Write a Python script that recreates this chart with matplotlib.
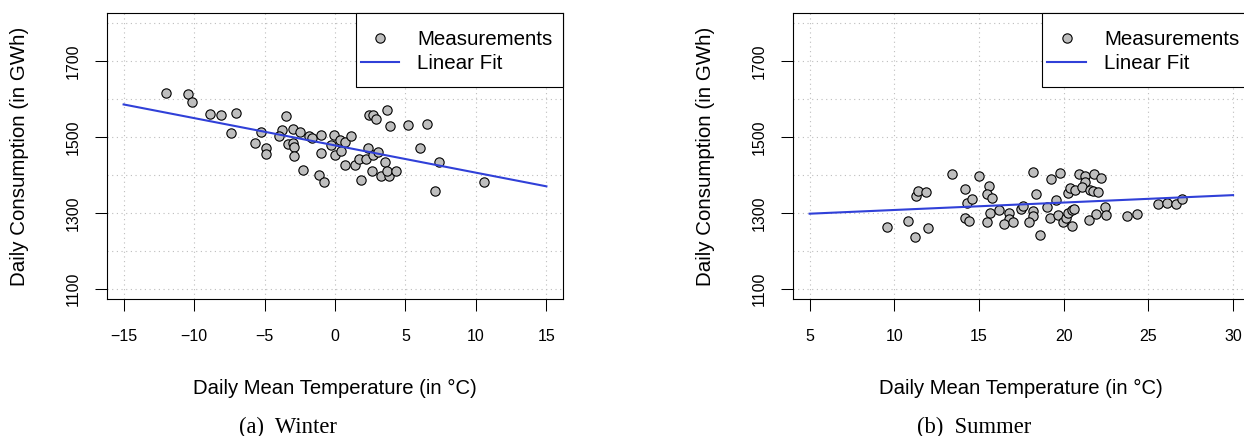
import numpy as np
import matplotlib
matplotlib.use("Agg")
import matplotlib.pyplot as plt
from matplotlib.lines import Line2D
from matplotlib.patches import Rectangle

# ---------------- data ----------------
winter_temp = [-11.97, -10.46, -10.18, -8.88, -8.10, -7.06, -7.39, -5.69, -5.27, -4.89,
               -4.89, -3.50, -3.75, -3.97, -2.97, -2.46, -3.31, -2.97, -2.92, -2.88,
               -2.27, -1.87, -1.63, -0.97, -0.97, -1.16, -0.81, -0.07, -0.28, 0.02,
               0.33, 0.42, 0.73, 1.13, 0.73, 1.44, 1.67, 1.81, 2.20, 2.31,
               2.38, 2.69, 2.92, 2.73, 3.04, 2.64, 3.54, 3.68, 3.92, 3.26,
               3.80, 3.68, 4.32, 5.21, 6.52, 6.04, 7.41, 7.10, 10.6]
winter_cons = [1616, 1614, 1593, 1561, 1557, 1564, 1511, 1484, 1512, 1472,
               1455, 1555, 1519, 1504, 1521, 1514, 1481, 1485, 1474, 1451,
               1414, 1503, 1498, 1505, 1458, 1401, 1382, 1505, 1478, 1452,
               1492, 1464, 1486, 1504, 1426, 1426, 1443, 1386, 1443, 1471,
               1559, 1559, 1547, 1452, 1461, 1411, 1433, 1571, 1529, 1398,
               1398, 1411, 1411, 1532, 1534, 1472, 1433, 1358, 1381]

summer_temp = [9.59, 10.79, 11.20, 11.99, 11.26, 11.40, 11.89, 13.39, 14.17, 14.29,
               14.59, 14.17, 14.39, 14.98, 15.59, 15.50, 15.79, 15.67, 15.47, 16.18,
               16.77, 16.76, 16.46, 16.99, 17.46, 17.58, 18.17, 18.39, 18.17, 18.19,
               17.96, 18.59, 19.02, 19.18, 19.27,
               19.77, 19.57, 20.26, 20.40, 20.69, 20.91, 21.24, 21.28, 21.11, 21.58,
               21.74, 22.03, 21.77, 22.19, 19.67, 19.93, 20.16, 20.26, 20.50, 20.61,
               20.50, 21.51, 21.89, 22.42, 22.48, 23.76, 24.30, 25.57, 26.10, 26.66,
               26.99]
summer_cons = [1262, 1279, 1236, 1259, 1345, 1358, 1354, 1403, 1362, 1327,
               1336, 1287, 1279, 1397, 1372, 1350, 1340, 1299, 1275, 1307,
               1300, 1283, 1271, 1276, 1310, 1318, 1409, 1350, 1305, 1292,
               1275, 1242, 1315, 1286, 1389,
               1406, 1334, 1352, 1365, 1359, 1402, 1396, 1381, 1368, 1360,
               1358, 1356, 1402, 1393, 1294, 1277, 1286, 1299, 1308, 1310,
               1265, 1281, 1297, 1316, 1294, 1293, 1297, 1323, 1327, 1323,
               1337]

# linear fits (intercept, slope) and the x-range they are drawn over
winter_fit = (1478.0, -7.2)
summer_fit = (1288.0, 1.96)
winter_fit_range = [-15, 15]
summer_fit_range = [5, 30]

winter_xticks = [-15, -10, -5, 0, 5, 10, 15]
summer_xticks = [5, 10, 15, 20, 25, 30]
y_ticks = [1100, 1300, 1500, 1700]
y_grid = [1100, 1200, 1300, 1400, 1500, 1600, 1700, 1800]

captions = ["(a)  Winter", "(b)  Summer"]
xlabel = "Daily Mean Temperature (in \u00b0C)"
ylabel = "Daily Consumption (in GWh)"
legend_labels = ["Measurements", "Linear Fit"]

# ---------------- style ----------------
SANS = ["Liberation Sans", "DejaVu Sans"]
SERIF = ["Liberation Serif", "DejaVu Serif"]
plt.rcParams["font.family"] = SANS
W, H = 1244, 436
DPI = 100
LINE_COLOR = "#3040d8"
PT_FACE = "#bebebe"
GRID_COLOR = "#bdbdbd"

fig = plt.figure(figsize=(W / DPI, H / DPI), dpi=DPI)

def px_axes(left, right, top, bottom):
    return [left / W, 1 - bottom / H, (right - left) / W, (bottom - top) / H]

panels = [
    dict(left=106.7, right=563.3, x=winter_temp, y=winter_cons,
         fit=winter_fit, fr=winter_fit_range, xt=winter_xticks, xlim=(-16.2, 16.2),
         cap=captions[0], capx=288),
    dict(left=792.7, right=1250.0, x=summer_temp, y=summer_cons,
         fit=summer_fit, fr=summer_fit_range, xt=summer_xticks, xlim=(4.0, 31.0),
         cap=captions[1], capx=974),
]
TOP, BOTTOM = 12.7, 299.3
LEG_W, LEG_H = 207.6, 74.0

for p in panels:
    rect = px_axes(p["left"], p["right"], TOP, BOTTOM)
    ax = fig.add_axes(rect)
    ax.set_xlim(*p["xlim"])
    ax.set_ylim(1072, 1828)
    # grid
    for gx in p["xt"]:
        ax.axvline(gx, color=GRID_COLOR, lw=0.8, ls=(0, (1, 3.2)), zorder=1)
    for gy in y_grid:
        ax.axhline(gy, color=GRID_COLOR, lw=0.8, ls=(0, (1, 3.2)), zorder=1)
    # points
    ax.scatter(p["x"], p["y"], s=6.7 ** 2, facecolor=PT_FACE, edgecolor="black",
               linewidths=0.8, zorder=3)
    # fit line
    fx = np.array(p["fr"], dtype=float)
    ax.plot(fx, p["fit"][0] + p["fit"][1] * fx, color=LINE_COLOR, lw=1.5, zorder=4)

    ax.set_xticks(p["xt"])
    ax.set_yticks(y_ticks)
    ax.tick_params(axis="both", direction="out", length=8.9, width=0.75,
                   labelsize=11.5, color="black")
    ax.tick_params(axis="x", pad=12.5)
    ax.tick_params(axis="y", pad=9.5)
    for lab in ax.get_yticklabels():
        lab.set_rotation(90)
        lab.set_va("center")
    for s in ax.spines.values():
        s.set_linewidth(0.8)
        s.set_color("black")

    # legend: frame drawn as a box flush with the top-right corner
    leg_left = p["right"] - LEG_W
    box = Rectangle((leg_left / W, 1 - (TOP + LEG_H) / H), LEG_W / W, LEG_H / H,
                    transform=fig.transFigure, facecolor="white", edgecolor="black",
                    linewidth=0.8, clip_on=False, zorder=5)
    ax.add_artist(box)
    handles = [Line2D([], [], ls="none", marker="o", markersize=6.7,
                      markerfacecolor=PT_FACE, markeredgecolor="black",
                      markeredgewidth=0.8),
               Line2D([], [], color=LINE_COLOR, lw=1.5)]
    leg = ax.legend(handles, legend_labels, loc="upper left",
                    bbox_to_anchor=((leg_left + 5.0) / W, 1 - 30.0 / H),
                    bbox_transform=fig.transFigure, borderaxespad=0.0,
                    fontsize=14.8, frameon=False, borderpad=0.0,
                    labelspacing=0.25, handlelength=1.87, handletextpad=0.88)
    leg.set_zorder(6)

    # axis labels and caption (placed in figure pixels)
    cx = (p["left"] + p["right"]) / 2 / W
    fig.text(cx, 1 - 394 / H, xlabel, ha="center", va="baseline", fontsize=14.6)
    fig.text((p["left"] - 87.2) / W, 1 - (TOP + BOTTOM) / 2 / H, ylabel, rotation=90,
             ha="center", va="center", fontsize=14.8)
    fig.text(p["capx"] / W, 1 - 433.3 / H, p["cap"], ha="center", va="baseline",
             fontsize=16.3, family=SERIF)

fig.savefig("out.png", dpi=DPI)
